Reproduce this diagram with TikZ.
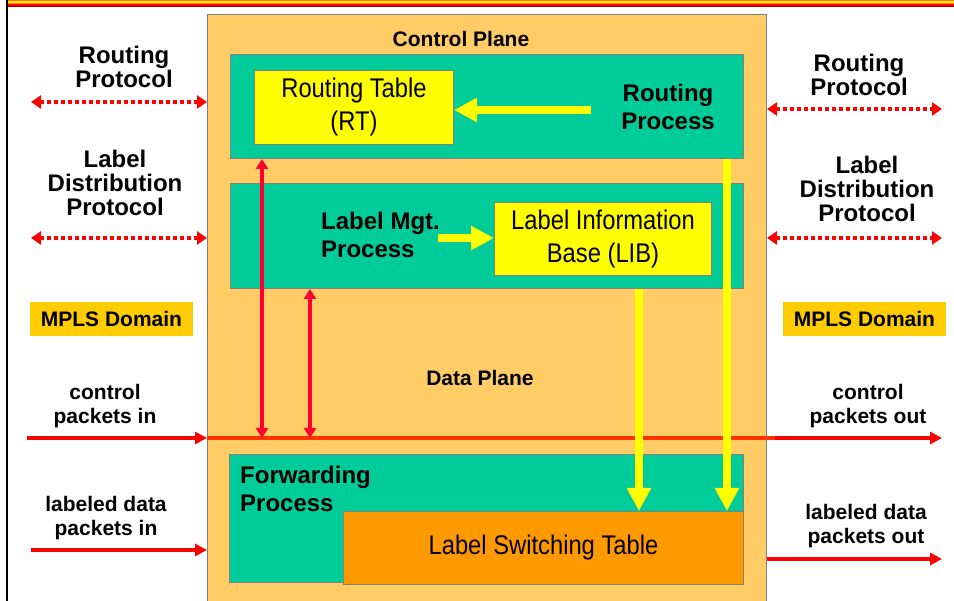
\documentclass[tikz,border=0pt]{standalone}
\usepackage{fontspec}
\setmainfont{Liberation Sans}
\newfontfamily\narrowfont[FakeStretch=0.88]{Liberation Sans}
\usetikzlibrary{arrows.meta,positioning}

\definecolor{planeorange}{HTML}{FFCC66}
\definecolor{procteal}{HTML}{00CC99}
\definecolor{tabyellow}{HTML}{FFFF00}
\definecolor{lstorange}{HTML}{FF9900}
\definecolor{domgold}{HTML}{FFCC00}
\definecolor{linkred}{HTML}{FF0000}
\definecolor{tapred}{HTML}{FF0033}
\definecolor{busred}{HTML}{FF3300}
\definecolor{edgegray}{HTML}{808080}

\begin{document}
\begin{tikzpicture}[
			x=1pt, y=-1pt,
			frame/.style={
				draw=edgegray,
				line width=1pt,
				anchor=north west,
				inner sep=0pt
			},
			process/.style={
				frame,
				fill=procteal
			},
			tablebox/.style={
				frame,
				align=center,
				font=\narrowfont\fontsize{27}{33}\selectfont
			},
			lbl/.style={
				align=center,
				inner sep=0pt,
				font=\fontsize{21}{24}\selectfont\bfseries
			},
			biglbl/.style={
				lbl,
				font=\fontsize{24}{24}\selectfont\bfseries
			},
			proclbl/.style={
				lbl,
				align=left,
				font=\fontsize{24}{28}\selectfont\bfseries
			},
			domainbox/.style={
				lbl,
				fill=domgold,
				minimum width=163pt,
				minimum height=34pt
			},
			link/.style={
				draw=linkred,
				line width=4pt,
				-{Triangle[length=12pt,width=12pt]}
			},
			signal/.style={
				draw=linkred,
				line width=4pt,
				dash pattern=on 4pt off 3pt,
				{Triangle[length=10pt,width=13pt]}-{Triangle[length=10pt,width=13pt]}
			},
			tap/.style={
				draw=tapred,
				line width=3.5pt,
				{Triangle[length=10pt,width=12pt]}-{Triangle[length=10pt,width=12pt]}
			},
			feed/.style={
				draw=tabyellow,
				line width=8pt,
				-{Triangle[length=23pt,width=23pt]}
			}
			]
			
			\useasboundingbox (0,0) rectangle (954,601);
			
			\fill[orange!80!red] (8,0) rectangle (954,1.5);
			\fill[yellow] (8,1.5) rectangle (954,3);
			\fill[orange] (8,3) rectangle (954,4.5);
			\fill[red] (8,4.5) rectangle (954,5.8);
			\fill[red!60!black] (8,5.8) rectangle (954,7);
			\draw[line width=2pt] (7,0) -- (7,601);
			
			\node[frame,fill=planeorange,minimum width=559pt,minimum height=600pt] (plane) at (207,14) {};
			\node[lbl,anchor=base] (ctrltitle) at (461,47) {Control Plane};
			\node[lbl,anchor=base] (datatitle) at (480,386) {Data Plane};
			
			\node[process,minimum width=513pt,minimum height=104pt] (routing) at (230,54) {};
			\node[tablebox,fill=tabyellow,minimum width=199pt,minimum height=74pt] (rt) at (254,70)
			{Routing Table\\(RT)};
			\node[proclbl,align=center,anchor=north] (rproc) at (668,84) {Routing\\Process};
			
			\node[process,minimum width=513pt,minimum height=105pt,below=24pt of routing] (ldp) {};
			\node[tablebox,fill=tabyellow,minimum width=217pt,minimum height=73pt] (lib) at (494,202)
			{Label Information\\Base (LIB)};
			\node[proclbl,anchor=north west] (lmp) at (321,211.5) {Label Mgt.\\Process};
			
			\node[process,minimum width=514pt,minimum height=128pt] (fwd) at (229,454) {};
			\node[proclbl,anchor=north west] (fproc) at (240,465.5) {Forwarding\\Process};
			\node[tablebox,fill=lstorange,minimum width=400pt,minimum height=73pt] (lst) at (343,511)
			{Label Switching Table};
			
			\node[biglbl] (rpW) at (124,67) {Routing\\Protocol};
			\node[biglbl] (ldpW) at (115,183) {Label\\Distribution\\Protocol};
			\node[biglbl] (rpE) at (859,75) {Routing\\Protocol};
			\node[biglbl] (ldpE) at (867,189) {Label\\Distribution\\Protocol};
			\node[domainbox] (domW) at (111.5,319) {MPLS Domain};
			\node[domainbox] (domE) at (864.5,319) {MPLS Domain};
			\node[lbl] (cinW) at (105,406) {control\\packets in};
			\node[lbl] (coutE) at (868,406) {control\\packets out};
			\node[lbl] (dinW) at (106,518) {labeled data\\packets in};
			\node[lbl] (doutE) at (866,526) {labeled data\\packets out};
			
			\coordinate (rpin) at (31,102);
			\coordinate (ldpin) at (31,238);
			\coordinate (rpout) at (942,109);
			\coordinate (ldpout) at (942,238);
			\coordinate (cin) at (27,438);
			\coordinate (cout) at (942,438);
			\coordinate (busend) at (775,438);
			\coordinate (din) at (31,550);
			\coordinate (dout) at (942,559);
			\coordinate (rtap) at (262,0);
			\coordinate (ltap) at (310,0);
			\coordinate (libfeed) at (639,0);
			\coordinate (rfeed) at (727,0);
			\coordinate (rpsrc) at (591,110);
			\coordinate (lmpsrc) at (438,238);
			
			\draw[signal] (rpin) -- (plane.west |- rpin);
			\draw[signal] (ldpin) -- (plane.west |- ldpin);
			\draw[signal] (plane.east |- rpout) -- (rpout);
			\draw[signal] (plane.east |- ldpout) -- (ldpout);
			
			\draw[link] (cin) -- (plane.west |- cin);
			\draw[link] (plane.east |- cout) -- (cout);
			\draw[busred,line width=4pt] (plane.west |- cin) -- (busend);
			\draw[link] (din) -- (plane.west |- din);
			\draw[link] (plane.east |- dout) -- (dout);
			
			\draw[tap] (routing.south -| rtap) -- (rtap |- cin);
			\draw[tap] (ldp.south -| ltap) -- (ltap |- cin);
			
			\draw[feed] (rpsrc) -- (rt.east |- rpsrc);
			\draw[feed] (lmpsrc) -- (lib.west |- lmpsrc);
			\draw[feed] (ldp.south -| libfeed) -- (lst.north -| libfeed);
			\draw[feed] (routing.south -| rfeed) -- (lst.north -| rfeed);
			
		\end{tikzpicture}
\end{document}
